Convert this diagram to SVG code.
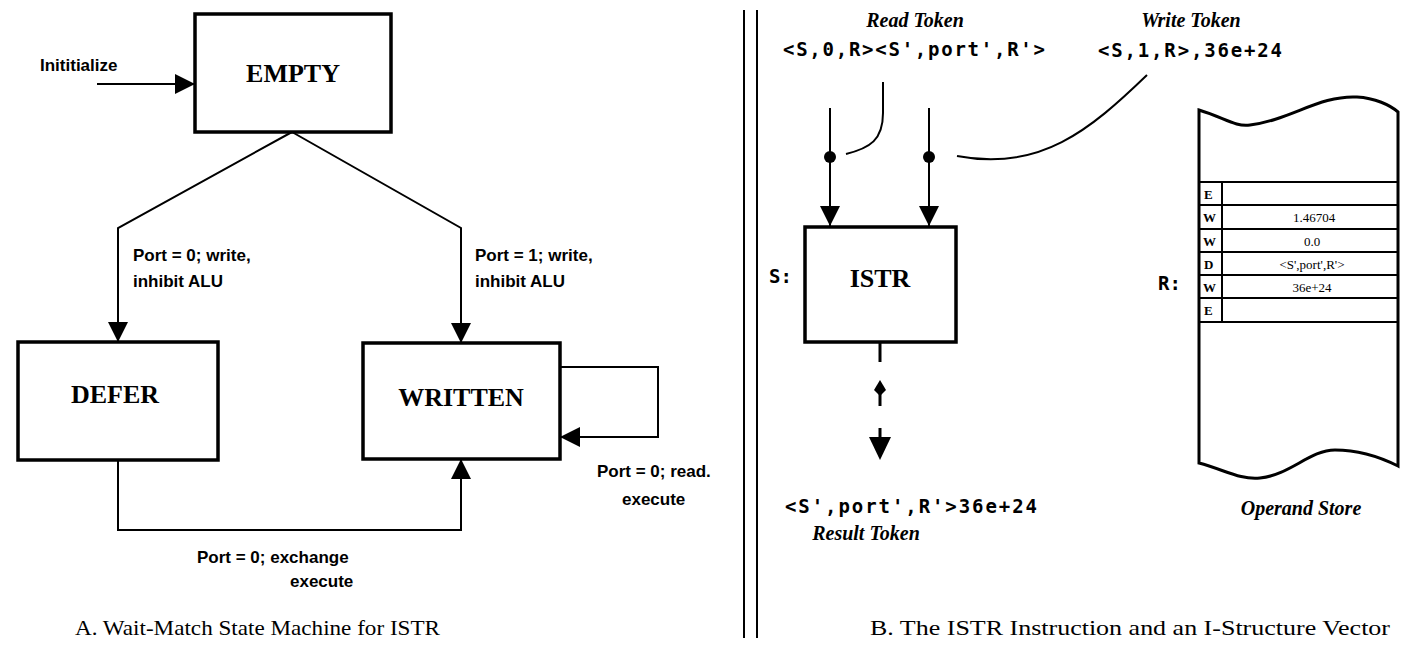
<svg xmlns="http://www.w3.org/2000/svg" width="1410" height="655" viewBox="0 0 1410 655">
<style>
.box{fill:#fff;stroke:#000;stroke-width:3.5}
.ln{fill:none;stroke:#000;stroke-width:2}
.thick{fill:none;stroke:#000;stroke-width:3}
.lbl{font-family:"Liberation Sans",Arial,sans-serif;font-weight:bold;font-size:17px;fill:#000}
.state{font-family:"Liberation Serif","Times New Roman",serif;font-weight:bold;font-size:26px;fill:#000}
.ital{font-family:"Liberation Serif","Times New Roman",serif;font-weight:bold;font-style:italic;font-size:20px;fill:#000}
.mono{font-family:"DejaVu Sans Mono","Liberation Mono",monospace;font-weight:bold;font-size:19px;fill:#000}
.cap{font-family:"Liberation Serif","Times New Roman",serif;font-size:22px;fill:#000}
.cell{font-family:"Liberation Serif","Times New Roman",serif;font-size:13px;fill:#000}
.cellb{font-family:"Liberation Serif","Times New Roman",serif;font-weight:bold;font-size:13px;fill:#000}
</style>
<defs>
<marker id="ahL" viewBox="0 0 10 10" refX="10" refY="5" markerWidth="20" markerHeight="20" markerUnits="userSpaceOnUse" orient="auto">
<path d="M0,0 L10,5 L0,10 Z" fill="#000"/>
</marker>
</defs>

<!-- Panel A -->
<g id="connectors-a">
<line class="ln" x1="97" y1="84" x2="195" y2="84" marker-end="url(#ahL)"/>
<polyline class="ln" points="292,132 118,228 118,342" marker-end="url(#ahL)"/>
<polyline class="ln" points="292,132 461,228 461,343" marker-end="url(#ahL)"/>
<polyline class="ln" points="560,367 658,367 658,437 560,437" marker-end="url(#ahL)"/>
<polyline class="ln" points="118,460 118,530 461,530 461,459" marker-end="url(#ahL)"/>
</g>
<text class="lbl" x="40" y="71">Inititialize</text>
<text class="lbl" x="133" y="261">Port = 0; write,</text>
<text class="lbl" x="133" y="287">inhibit ALU</text>
<text class="lbl" x="475" y="261">Port = 1; write,</text>
<text class="lbl" x="475" y="287">inhibit ALU</text>
<text class="lbl" x="597" y="477">Port = 0; read.</text>
<text class="lbl" x="622" y="505">execute</text>
<text class="lbl" x="197" y="563">Port = 0; exchange</text>
<text class="lbl" x="290" y="587">execute</text>

<g id="node-empty">
<rect class="box" x="195" y="14" width="196" height="118"/>
<text class="state" x="293" y="82" text-anchor="middle">EMPTY</text>
</g>
<g id="node-defer">
<rect class="box" x="18" y="342" width="200" height="118"/>
<text class="state" x="115" y="403" text-anchor="middle">DEFER</text>
</g>
<g id="node-written">
<rect class="box" x="363" y="343" width="197" height="116"/>
<text class="state" x="461" y="406" text-anchor="middle">WRITTEN</text>
</g>

<text class="cap" x="75" y="635" textLength="365" lengthAdjust="spacingAndGlyphs">A.  Wait-Match State Machine for ISTR</text>

<!-- Divider -->
<line class="ln" x1="744" y1="10" x2="744" y2="638"/>
<line class="ln" x1="757" y1="10" x2="757" y2="638"/>

<!-- Panel B -->
<text class="ital" x="915" y="27" text-anchor="middle">Read Token</text>
<text class="mono" x="783" y="56" textLength="262" lengthAdjust="spacing">&lt;S,0,R&gt;&lt;S',port',R'&gt;</text>
<text class="ital" x="1191" y="27" text-anchor="middle">Write Token</text>
<text class="mono" x="1098" y="57" textLength="184" lengthAdjust="spacing">&lt;S,1,R&gt;,36e+24</text>

<g id="connectors-b">
<path class="ln" d="M883,82 L883,113 C883,140 870,148 846,154"/>
<path class="ln" d="M1147,75 C1090,130 1040,172 957,156"/>
<line class="ln" x1="830" y1="108" x2="830" y2="226" marker-end="url(#ahL)"/>
<line class="ln" x1="929" y1="108" x2="929" y2="226" marker-end="url(#ahL)"/>
<circle cx="830" cy="157" r="6" fill="#000"/>
<circle cx="929" cy="157" r="6" fill="#000"/>
<line class="thick" x1="880" y1="342" x2="880" y2="362"/>
<path d="M880,380 L886,390 L880,396 L874,390 Z" fill="#000"/>
<line class="thick" x1="880" y1="392" x2="880" y2="406"/>
<line class="thick" x1="880" y1="428" x2="880" y2="442"/>
<path d="M869,437 L891,437 L880,460 Z" fill="#000"/>
</g>

<g id="node-istr">
<rect class="box" x="805" y="227" width="151" height="115"/>
<text class="state" x="880" y="287" text-anchor="middle" font-size="24">ISTR</text>
</g>
<text class="mono" x="769" y="283" font-size="20">S:</text>

<text class="mono" x="785" y="513" textLength="252" lengthAdjust="spacing">&lt;S',port',R'&gt;36e+24</text>
<text class="ital" x="866" y="540" text-anchor="middle">Result Token</text>

<text class="mono" x="1158" y="290" font-size="20">R:</text>

<g id="node-store">
<path class="thick" d="M1199,110 C1225,118 1235,127 1250,125 C1290,120 1320,95 1357,97 C1375,98 1390,105 1398,112 L1398,466 C1380,457 1360,450 1335,450 C1310,450 1290,475 1260,478 C1240,480 1225,470 1199,463 Z"/>
<g stroke="#000" stroke-width="2">
<line x1="1199" y1="182" x2="1398" y2="182"/>
<line x1="1199" y1="205" x2="1398" y2="205"/>
<line x1="1199" y1="229" x2="1398" y2="229"/>
<line x1="1199" y1="252" x2="1398" y2="252"/>
<line x1="1199" y1="275" x2="1398" y2="275"/>
<line x1="1199" y1="298" x2="1398" y2="298"/>
<line x1="1199" y1="322" x2="1398" y2="322"/>
<line x1="1222" y1="182" x2="1222" y2="322"/>
</g>
<text class="cellb" x="1204" y="199">E</text>
<text class="cellb" x="1203" y="222">W</text>
<text class="cellb" x="1203" y="246">W</text>
<text class="cellb" x="1204" y="269">D</text>
<text class="cellb" x="1203" y="292">W</text>
<text class="cellb" x="1204" y="315">E</text>
<text class="cell" x="1314" y="222" text-anchor="middle">1.46704</text>
<text class="cell" x="1312" y="246" text-anchor="middle">0.0</text>
<text class="cell" x="1312" y="269" text-anchor="middle">&lt;S',port',R'&gt;</text>
<text class="cell" x="1312" y="292" text-anchor="middle">36e+24</text>
</g>
<text class="ital" x="1301" y="515" text-anchor="middle">Operand Store</text>

<text class="cap" x="870" y="635" textLength="520" lengthAdjust="spacingAndGlyphs">B. The ISTR Instruction and an I-Structure Vector</text>
</svg>
